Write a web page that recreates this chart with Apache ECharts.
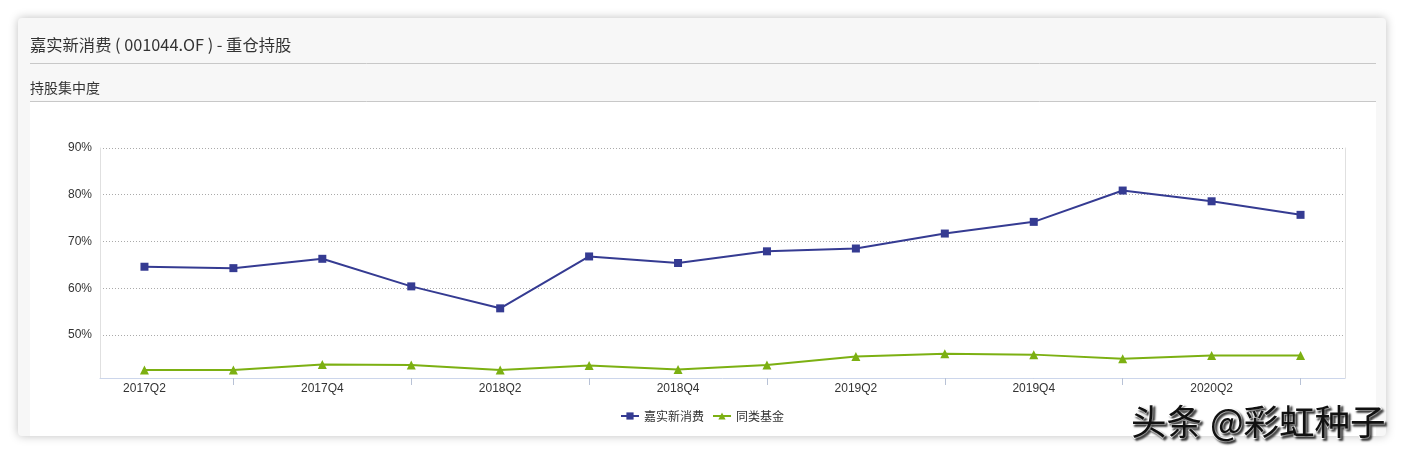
<!DOCTYPE html>
<html><head><meta charset="utf-8">
<script src="https://cdn.jsdelivr.net/npm/echarts@6/dist/echarts.min.js"></script>
<style>html,body{margin:0;padding:0;background:#fff;}#c{width:1404px;height:454px;}</style>
</head><body><div id="c"></div>
<script>
const categories = ['2017Q2','2017Q3','2017Q4','2018Q1','2018Q2','2018Q3','2018Q4','2019Q1','2019Q2','2019Q3','2019Q4','2020Q1','2020Q2','2020Q3'];
const fundValues = [64.6, 64.3, 66.3, 60.4, 55.7, 66.8, 65.4, 67.9, 68.5, 71.7, 74.2, 80.9, 78.6, 75.7];
const peerValues = [42.5, 42.5, 43.7, 43.6, 42.5, 43.5, 42.6, 43.6, 45.4, 46.0, 45.8, 44.9, 45.6, 45.6];
const yTicks = [50, 60, 70, 80, 90];
const seriesNames = ['嘉实新消费', '同类基金'];
const titleText = '嘉实新消费 ( 001044.OF ) - 重仓持股';
const subTitleText = '持股集中度';
const watermark = '头条 @彩虹种子';

const font = '"Noto Sans CJK SC", "Noto Sans", sans-serif';
const latin = '"Liberation Sans", Arial, sans-serif';
const chart = echarts.init(document.getElementById('c'));
chart.setOption({
  backgroundColor: '#ffffff',
  animation: false,
  textStyle: {fontFamily: font},
  graphic: [
    {type: 'rect', z: -10, shape: {x: 18, y: 18, width: 1368, height: 418, r: 4},
     style: {fill: '#f7f7f7', shadowBlur: 10, shadowColor: 'rgba(0,0,0,0.25)'}},
    {type: 'rect', z: -9, shape: {x: 30, y: 102, width: 1346, height: 334}, style: {fill: '#ffffff'}},
    {type: 'line', z: -9, shape: {x1: 30, y1: 63.5, x2: 1376, y2: 63.5}, style: {stroke: '#c8c8c8', lineWidth: 1}},
    {type: 'line', z: -9, shape: {x1: 30, y1: 101.5, x2: 1376, y2: 101.5}, style: {stroke: '#c8c8c8', lineWidth: 1}},
    {type: 'text', left: 30, top: 37, style: {text: titleText, font: '16.3px ' + font, fill: '#333'}},
    {type: 'text', left: 30, top: 81, style: {text: subTitleText, font: '14px ' + font, fill: '#333'}},
    {type: 'text', z: 100, left: 1130, top: 403, style: {text: watermark, font: '35.5px ' + font, fill: '#111', stroke: '#fff', lineWidth: 2, textShadowColor: 'rgba(0,0,0,0.6)', textShadowBlur: 2, textShadowOffsetX: 2, textShadowOffsetY: 2}}
  ],
  legend: {
    bottom: 27, left: 'center', itemWidth: 18, itemHeight: 9, itemGap: 8,
    textStyle: {fontSize: 12, color: '#333', fontFamily: font},
    data: seriesNames
  },
  grid: {left: 100, right: 59, top: 148, bottom: 76, containLabel: false},
  xAxis: {
    type: 'category', data: categories, boundaryGap: true,
    axisLine: {lineStyle: {color: '#ccd6eb'}},
    axisTick: {show: true, alignWithLabel: true, interval: function (i) { return i % 2 === 1; }, length: 7, lineStyle: {color: '#b8c2d6'}},
    axisLabel: {interval: 1, color: '#333', fontSize: 12, margin: 5, fontFamily: latin}
  },
  yAxis: [{
    type: 'value', min: 40.8, max: 90,
    axisLine: {show: true, lineStyle: {color: '#e0e0e0'}},
    axisTick: {show: false},
    axisLabel: {color: '#333', fontSize: 12, margin: 8, fontFamily: latin,
      formatter: (v) => yTicks.indexOf(Math.round(v * 10) / 10) >= 0 ? v + '%' : ''},
    splitLine: {lineStyle: {color: '#aaaaaa', type: [1, 2], width: 1}}
  }, {
    type: 'value', min: 40.8, max: 90, position: 'right',
    axisLine: {show: true, lineStyle: {color: '#e0e0e0'}},
    axisTick: {show: false}, axisLabel: {show: false}, splitLine: {show: false}
  }],
  series: [
    {name: seriesNames[0], type: 'line', data: fundValues, symbol: 'rect', symbolSize: 8,
     lineStyle: {width: 2, color: '#353b92'}, itemStyle: {color: '#353b92'}},
    {name: seriesNames[1], type: 'line', data: peerValues, symbol: 'triangle', symbolSize: 9,
     lineStyle: {width: 2, color: '#7cb012'}, itemStyle: {color: '#7cb012'}}
  ]
});
</script></body></html>
